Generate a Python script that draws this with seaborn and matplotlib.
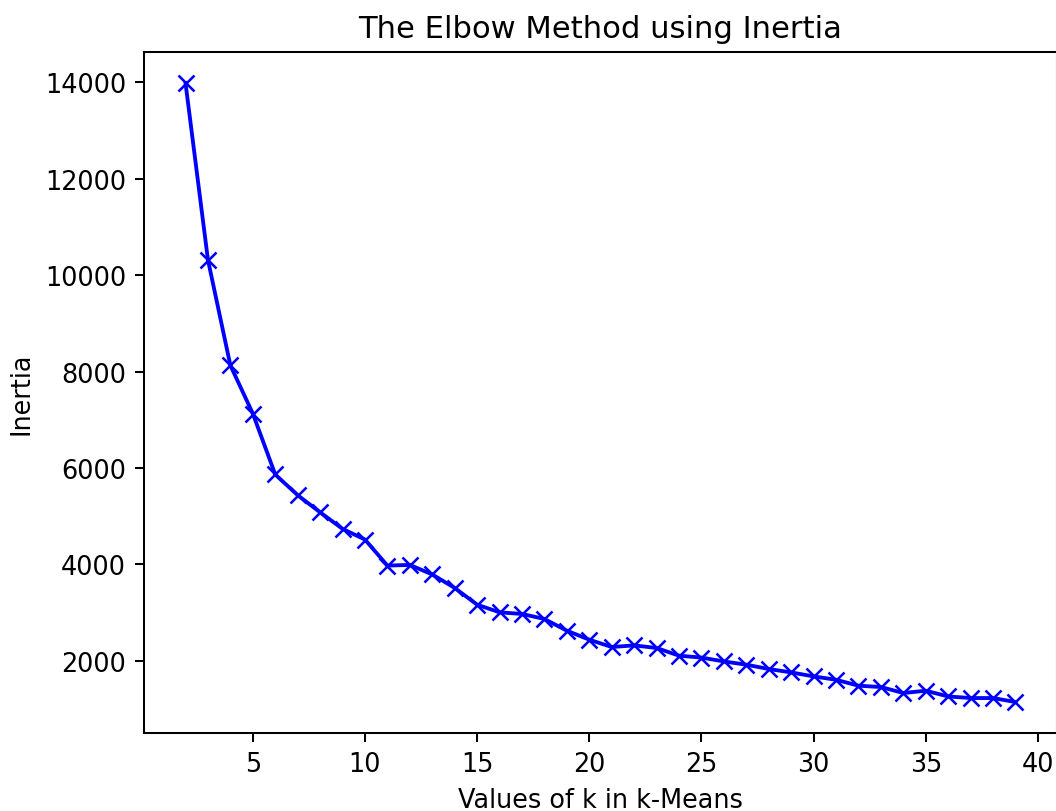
import matplotlib
matplotlib.use("Agg")
import matplotlib.pyplot as plt
import seaborn as sns
import pandas as pd

k_values = list(range(2, 40))
inertia = [13990, 10320, 8130, 7130, 5865, 5435, 5080, 4736, 4514, 3974,
           3988, 3790, 3510, 3163, 3004, 2970, 2866, 2623, 2436, 2284,
           2318, 2264, 2104, 2065, 1985, 1917, 1828, 1757, 1674, 1605,
           1481, 1454, 1329, 1377, 1258, 1225, 1225, 1142]

df = pd.DataFrame({"k": k_values, "inertia": inertia})

dpi = 184
fig = plt.figure(figsize=(1056 / dpi, 812 / dpi), dpi=dpi)
ax = fig.add_axes([144 / 1056, 78 / 812, 913 / 1056, 681 / 812])

sns.lineplot(data=df, x="k", y="inertia", ax=ax, color="blue",
             marker="x", markersize=6, markeredgewidth=1.0,
             markeredgecolor="blue", linewidth=1.5)

ax.set_xlabel("Values of k in k-Means")
ax.set_ylabel("Inertia")
ax.set_title("The Elbow Method using Inertia")

fig.savefig("out.png", dpi=dpi)
